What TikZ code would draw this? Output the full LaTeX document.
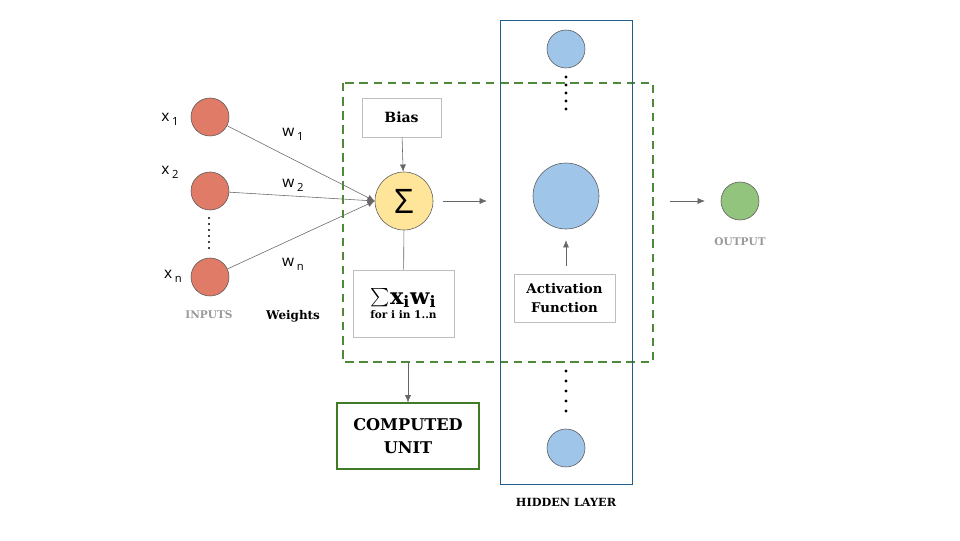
\documentclass[tikz,border=0pt]{standalone}
\usepackage{fontspec}
\setmainfont{DejaVu Serif}
\newfontfamily\varfont{Open Sans}
\usetikzlibrary{arrows.meta}
\tikzset{>={Latex[width=1.5mm,length=1.8mm]}}
\definecolor{inred}{HTML}{E07B67}
\definecolor{sumyellow}{HTML}{FFE599}
\definecolor{hidblue}{HTML}{9FC5E8}
\definecolor{outgreen}{HTML}{93C47D}
\definecolor{unitgreen}{HTML}{4E8A3A}
\definecolor{boxgreen}{HTML}{3F7A28}
\definecolor{layerblue}{HTML}{1F5E8A}
\newcommand{\lowsub}[1]{\raisebox{-0.45ex}{\fontsize{8}{9}\selectfont#1}}
\tikzset{
  neuron/.style={circle, draw=black!65, minimum size=0.95cm, inner sep=0pt},
  textbox/.style={draw=black!25, font=\bfseries, align=center, inner sep=0pt},
  link/.style={->, draw=black!60},
  tag/.style={font=\bfseries\fontsize{7.5}{9}\selectfont},
  var/.style={font=\varfont\fontsize{11}{13}\selectfont},
}
\begin{document}
\begin{tikzpicture}[x=0.025cm, y=-0.025cm]
  \useasboundingbox[fill=white] (0,0) rectangle (960,540);

  % inputs
  \node[neuron, fill=inred] (x1) at (210,117) {};
  \node[neuron, fill=inred] (x2) at (210,191) {};
  \node[neuron, fill=inred] (xn) at (210,277) {};
  \node[var] (lx1) at (170,119) {x\,\lowsub{1}};
  \node[var] (lx2) at (170,172) {x\,\lowsub{2}};
  \node[var] (lxn) at (173,276) {x\,\lowsub{n}};
  \foreach \y in {218,224,...,248}
    \fill (209,\y) circle (0.8pt);
  \node[tag, text=black!40] (inputs) at (209,315) {INPUTS};

  % weighted sum
  \node[neuron, fill=sumyellow, minimum size=1.45cm] (sum) at (404,201)
    {\varfont\fontsize{24}{24}\selectfont Σ};
  \draw[link] (x1) -- (sum.west);
  \draw[link] (x2) -- (sum.west);
  \draw[link] (xn) -- (sum.west);
  \node[var] (w1) at (293,134) {w\,\lowsub{1}};
  \node[var] (w2) at (293,185) {w\,\lowsub{2}};
  \node[var] (wn) at (293,264) {w\,\lowsub{n}};
  \node[tag, font=\bfseries\fontsize{8.5}{10}\selectfont] (weights) at (293,316) {Weights};

  \node[textbox, minimum width=1.975cm, minimum height=0.975cm, font=\bfseries\fontsize{10}{12}\selectfont]
    (bias) at (401.5,117.5) {Bias};
  \draw[link] (bias) -- (sum);
  \node[textbox, minimum width=2.525cm, minimum height=1.675cm] (formula) at (403.5,303.5)
    {{\fontsize{16}{17}\selectfont\raisebox{-0.15ex}{\scalebox{1.3}{$\sum$}}x\textsubscript{i}w\textsubscript{i}}\\[-2pt]
     {\fontsize{7.5}{9}\selectfont for i in 1..n}};
  \draw[black!60] (sum) -- (formula);

  % computed unit
  \draw[unitgreen, line width=1.3pt, dash pattern=on 6pt off 4pt] (343,83) rectangle (653,362);
  \coordinate (unitbot) at (408,362);
  \node[textbox, draw=boxgreen, line width=0.8pt, minimum width=3.55cm, minimum height=1.65cm,
    font=\bfseries\fontsize{11.5}{16}\selectfont] (unit) at (408,436) {COMPUTED\\UNIT};
  \draw[link] (unitbot) -- (unit);

  % hidden layer
  \draw[layerblue, line width=0.6pt] (500,20) rectangle (632,484);
  \node[neuron, fill=hidblue] (h1) at (566,49) {};
  \node[neuron, fill=hidblue, minimum size=1.65cm] (h2) at (566,196) {};
  \node[neuron, fill=hidblue] (h3) at (566,448) {};
  \foreach \y in {77,85,...,109}
    \fill (566,\y) circle (1.1pt);
  \foreach \y in {371,381,...,411}
    \fill (566,\y) circle (1.1pt);
  \node[textbox, minimum width=2.525cm, minimum height=1.2cm, font=\bfseries\fontsize{9.5}{13}\selectfont]
    (act) at (564.5,298) {Activation\\Function};
  \draw[link, shorten <=5.7pt, shorten >=7.8pt] (act.north -| h2) -- (h2.south);
  \draw[link, shorten <=7pt, shorten >=32.6pt] (sum.east) -- (sum.east -| h2.west);
  \node[tag, font=\bfseries\fontsize{8}{10}\selectfont] (hidden) at (566,502) {HIDDEN LAYER};

  % output
  \node[neuron, fill=outgreen] (out) at (740,201) {};
  \draw[link, shorten <=50pt, shorten >=11.3pt] (out.west -| h2.east) -- (out.west);
  \node[tag, text=black!40] (output) at (740,242) {OUTPUT};
\end{tikzpicture}
\end{document}
